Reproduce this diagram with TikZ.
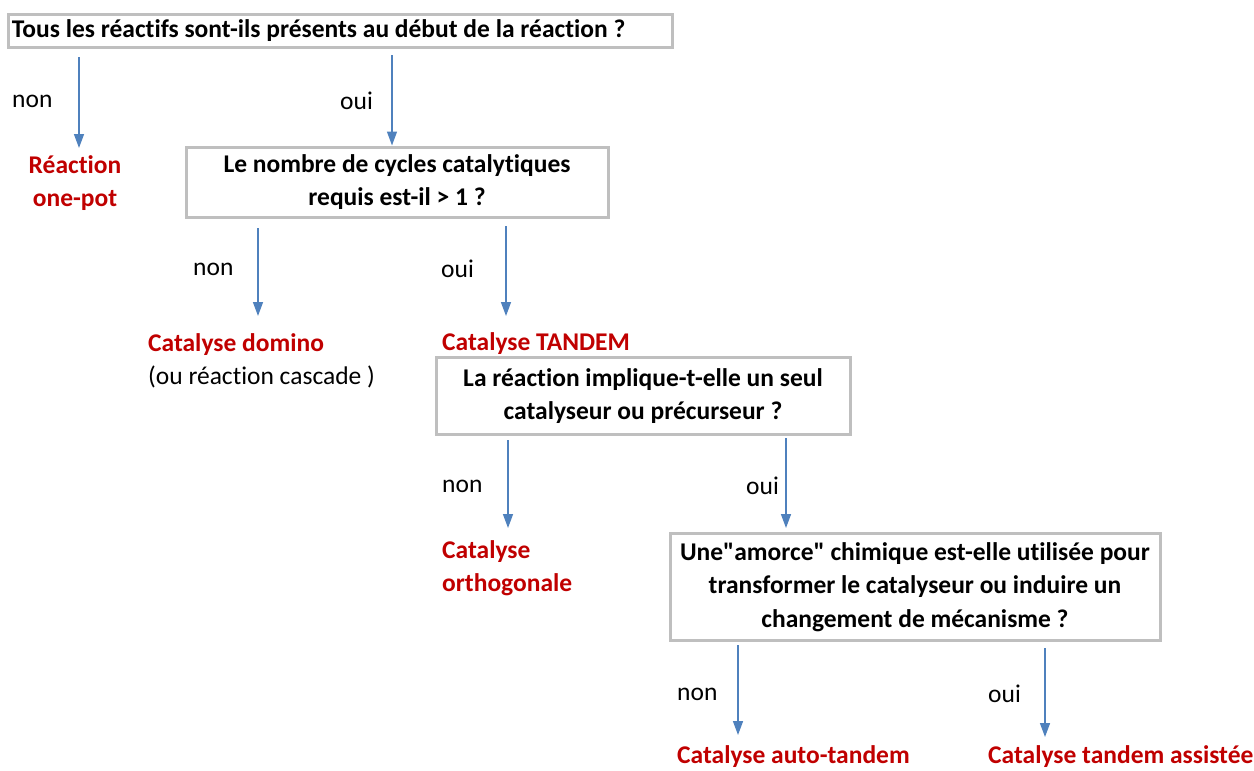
\documentclass[tikz,border=0pt]{standalone}
\usepackage{fontspec}
\setmainfont{Carlito}[Ligatures={NoCommon,TeXOff}]
\usetikzlibrary{arrows.meta}
\definecolor{arrblue}{RGB}{79,129,189}
\definecolor{boxgray}{RGB}{191,191,191}
\definecolor{darkred}{RGB}{192,0,0}
\begin{document}
\begin{tikzpicture}[x=1pt,y=-1pt,
 qbox/.style={draw=boxgray, line width=3pt, inner sep=0pt, align=center, fill=white,
   font=\bfseries\fontsize{25.5}{33.5}\selectfont},
 res/.style={text=darkred, font=\bfseries\fontsize{25.5}{33.5}\selectfont, inner sep=0pt},
 lbl/.style={font=\fontsize{25.5}{30}\selectfont, inner sep=0pt, anchor=west},
 arr/.style={draw=arrblue, line width=1.5pt, -{Triangle[length=14pt,width=10pt]}}]
\useasboundingbox (0,0) rectangle (1254,771);
% question boxes
\node[qbox, minimum width=664pt, minimum height=33pt, text width=656pt, align=flush left] (q1) at (340,30.5)
  {Tous les réactifs sont-ils présents au début de la réaction ?};
\node[qbox, minimum width=422pt, minimum height=70pt] (q2) at (397,182)
  {Le nombre de cycles catalytiques\\requis est-il > 1 ?};
\node[qbox, minimum width=414pt, minimum height=77pt] (q3) at (643,396)
  {La réaction implique-t-elle un seul\\catalyseur ou précurseur ?};
\node[qbox, minimum width=490pt, minimum height=107pt] (q4) at (915,587)
  {Une"amorce" chimique est-elle utilisée pour\\transformer le catalyseur ou induire un\\changement de mécanisme ?};
% results
\node[res, align=center, anchor=north] (onepot) at (75,155) {Réaction\\one-pot};
\node[res, align=left, anchor=north west, text=black] (domino) at (148,333)
  {\textcolor{darkred}{Catalyse domino}\\\mdseries(ou réaction cascade )};
\node[res, anchor=north west] (tandem) at (442,332) {Catalyse TANDEM};
\node[res, align=left, anchor=north west] (ortho) at (442,540) {Catalyse\\orthogonale};
\node[res, anchor=north west] (auto) at (677,745) {Catalyse auto-tandem};
\node[res, anchor=north west] (assist) at (988,745) {Catalyse tandem assistée};
% labels
\node[lbl] (l1) at (12,101) {non};
\node[lbl] (l2) at (340,101) {oui};
\node[lbl] (l3) at (193,269) {non};
\node[lbl] (l4) at (441,269) {oui};
\node[lbl] (l5) at (442,486) {non};
\node[lbl] (l6) at (746,486) {oui};
\node[lbl] (l7) at (677,694) {non};
\node[lbl] (l8) at (988,694) {oui};
% arrows
\coordinate (a1) at (79,57);
\coordinate (a2) at (392,55);
\coordinate (a3) at (258,228);
\coordinate (a4) at (506,226);
\coordinate (a5) at (508,440);
\coordinate (a6) at (786,438);
\coordinate (a7) at (738,645);
\coordinate (a8) at (1045,648);
\draw[arr, shorten >=7pt] (a1) -- (a1 |- onepot.north);
\draw[arr] (a2) -- (a2 |- q2.north);
\draw[arr, shorten >=17pt] (a3) -- (a3 |- domino.north);
\draw[arr, shorten >=16pt] (a4) -- (a4 |- tandem.north);
\draw[arr, shorten >=12pt] (a5) -- (a5 |- ortho.north);
\draw[arr, shorten >=4pt] (a6) -- (a6 |- q4.north);
\draw[arr, shorten >=10pt] (a7) -- (a7 |- auto.north);
\draw[arr, shorten >=8pt] (a8) -- (a8 |- assist.north);
\end{tikzpicture}
\end{document}
